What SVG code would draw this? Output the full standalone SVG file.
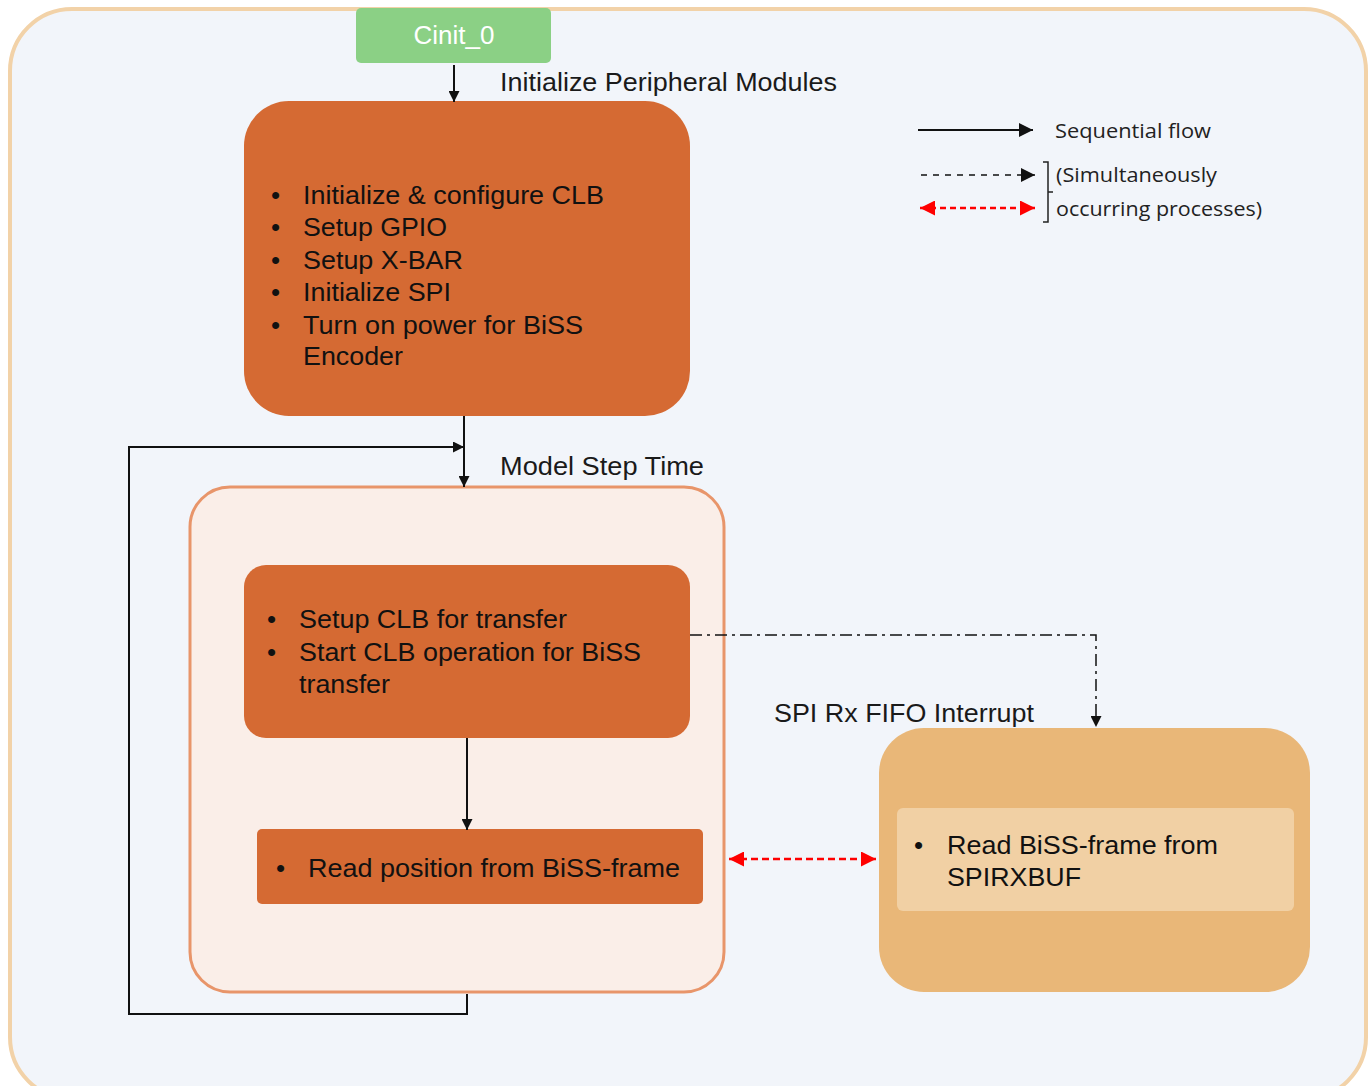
<svg xmlns="http://www.w3.org/2000/svg" width="1370" height="1086" viewBox="0 0 1370 1086">
  <style>
    .lbl { font-family: "Liberation Sans", Arial, sans-serif; font-size: 26px; fill: #1a1a1a; }
    .body { font-family: "Liberation Sans", Arial, sans-serif; font-size: 26px; fill: #111; }
    .leg { font-family: "Open Sans", "Noto Sans", sans-serif; font-size: 20px; fill: #222; }
    .task { fill: #D56A33; }
    .flow { stroke: #111; stroke-width: 2; fill: none; }
  </style>
  <defs>
    <marker id="ah" viewBox="0 0 10 10" refX="10" refY="5" markerWidth="11" markerHeight="11" markerUnits="userSpaceOnUse" orient="auto">
      <path d="M0,0 L10,5 L0,10 z" fill="#111"/>
    </marker>
    <marker id="ahBig" viewBox="0 0 10 10" refX="10" refY="5" markerWidth="14" markerHeight="14" markerUnits="userSpaceOnUse" orient="auto">
      <path d="M0,0 L10,5 L0,10 z" fill="#111"/>
    </marker>
    <marker id="ahRed" viewBox="0 0 10 10" refX="10" refY="5" markerWidth="15" markerHeight="15" markerUnits="userSpaceOnUse" orient="auto-start-reverse">
      <path d="M0,0 L10,5 L0,10 z" fill="#F00"/>
    </marker>
  </defs>

  <!-- background frame -->
  <rect x="0" y="0" width="1370" height="1086" fill="#FFFFFF"/>
  <rect id="frame" x="10" y="9" width="1356" height="1090" rx="62" fill="#F2F5FA" stroke="#F2D2A8" stroke-width="4"/>

  <!-- legend -->
  <g id="legend">
    <line x1="918" y1="130" x2="1033" y2="130" stroke="#111" stroke-width="2" marker-end="url(#ahBig)"/>
    <text class="leg" x="1055" y="138" textLength="156" lengthAdjust="spacingAndGlyphs">Sequential flow</text>
    <line x1="921" y1="175" x2="1035" y2="175" stroke="#111" stroke-width="1.5" stroke-dasharray="6,6" marker-end="url(#ahBig)"/>
    <line x1="920" y1="208" x2="1035" y2="208" stroke="#F00" stroke-width="2.5" stroke-dasharray="6,4" marker-start="url(#ahRed)" marker-end="url(#ahRed)"/>
    <path d="M1043,162 H1048 V222 H1043 M1048,192 H1053" stroke="#222" stroke-width="1.5" fill="none"/>
    <text class="leg" x="1056" y="182" textLength="161" lengthAdjust="spacingAndGlyphs">(Simultaneously</text>
    <text class="leg" x="1056" y="216" textLength="206" lengthAdjust="spacingAndGlyphs">occurring processes)</text>
  </g>

  <!-- start node -->
  <g id="cinit">
    <rect x="356" y="8" width="195" height="55" rx="5" fill="#8BD085"/>
    <text x="454" y="44" text-anchor="middle" font-family="Liberation Sans, Arial, sans-serif" font-size="26" fill="#FFFFFF">Cinit_0</text>
  </g>

  <text class="lbl" x="500" y="91" textLength="337" lengthAdjust="spacingAndGlyphs">Initialize Peripheral Modules</text>

  <!-- peripheral initialisation -->
  <g id="init">
    <rect class="task" x="244" y="101" width="446" height="315" rx="45"/>
    <g class="body">
      <text x="271" y="204">•</text><text x="303" y="204" textLength="301" lengthAdjust="spacingAndGlyphs">Initialize &amp; configure CLB</text>
      <text x="271" y="236">•</text><text x="303" y="236" textLength="144" lengthAdjust="spacingAndGlyphs">Setup GPIO</text>
      <text x="271" y="269">•</text><text x="303" y="269" textLength="160" lengthAdjust="spacingAndGlyphs">Setup X-BAR</text>
      <text x="271" y="301">•</text><text x="303" y="301" textLength="148" lengthAdjust="spacingAndGlyphs">Initialize SPI</text>
      <text x="271" y="334">•</text><text x="303" y="334" textLength="280" lengthAdjust="spacingAndGlyphs">Turn on power for BiSS</text>
      <text x="303" y="365" textLength="100" lengthAdjust="spacingAndGlyphs">Encoder</text>
    </g>
  </g>

  <text class="lbl" x="500" y="475" textLength="204" lengthAdjust="spacingAndGlyphs">Model Step Time</text>

  <!-- model step container -->
  <g id="model-step">
    <rect x="190" y="487" width="534" height="505" rx="40" fill="#FAEEE8" stroke="#E8956A" stroke-width="3"/>
  </g>

  <g id="clb-transfer">
    <rect class="task" x="244" y="565" width="446" height="173" rx="22"/>
    <g class="body">
      <text x="267" y="628">•</text><text x="299" y="628" textLength="268" lengthAdjust="spacingAndGlyphs">Setup CLB for transfer</text>
      <text x="267" y="661">•</text><text x="299" y="661" textLength="342" lengthAdjust="spacingAndGlyphs">Start CLB operation for BiSS</text>
      <text x="299" y="693" textLength="91" lengthAdjust="spacingAndGlyphs">transfer</text>
    </g>
  </g>

  <g id="read-position">
    <rect class="task" x="257" y="829" width="446" height="75" rx="5"/>
    <g class="body">
      <text x="276" y="877">•</text><text x="308" y="877" textLength="372" lengthAdjust="spacingAndGlyphs">Read position from BiSS-frame</text>
    </g>
  </g>

  <text class="lbl" x="774" y="722" textLength="260" lengthAdjust="spacingAndGlyphs">SPI Rx FIFO Interrupt</text>

  <!-- SPI interrupt -->
  <g id="spi-isr">
    <rect x="879" y="728" width="431" height="264" rx="45" fill="#E9B778"/>
    <rect x="897" y="808" width="397" height="103" rx="6" fill="#F1D0A4"/>
    <g class="body">
      <text x="914" y="854">•</text><text x="947" y="854" textLength="271" lengthAdjust="spacingAndGlyphs">Read BiSS-frame from</text>
      <text x="947" y="886" textLength="134" lengthAdjust="spacingAndGlyphs">SPIRXBUF</text>
    </g>
  </g>

  <!-- connectors, drawn last so they sit above the boxes they cross -->
  <g id="connectors">
    <line class="flow" x1="454" y1="65" x2="454" y2="102" marker-end="url(#ah)"/>
    <line class="flow" x1="464" y1="416" x2="464" y2="487" marker-end="url(#ah)"/>
    <polyline class="flow" points="467,994 467,1014 129,1014 129,447 464,447" marker-end="url(#ah)"/>
    <line class="flow" x1="467" y1="738" x2="467" y2="830" marker-end="url(#ah)"/>
    <polyline points="690,635 1096,635 1096,727" fill="none" stroke="#111" stroke-width="1.5" stroke-dasharray="12,5,3,5" marker-end="url(#ah)"/>
    <line x1="729" y1="859" x2="876" y2="859" stroke="#F00" stroke-width="2.5" stroke-dasharray="7,4" marker-start="url(#ahRed)" marker-end="url(#ahRed)"/>
  </g>
</svg>
